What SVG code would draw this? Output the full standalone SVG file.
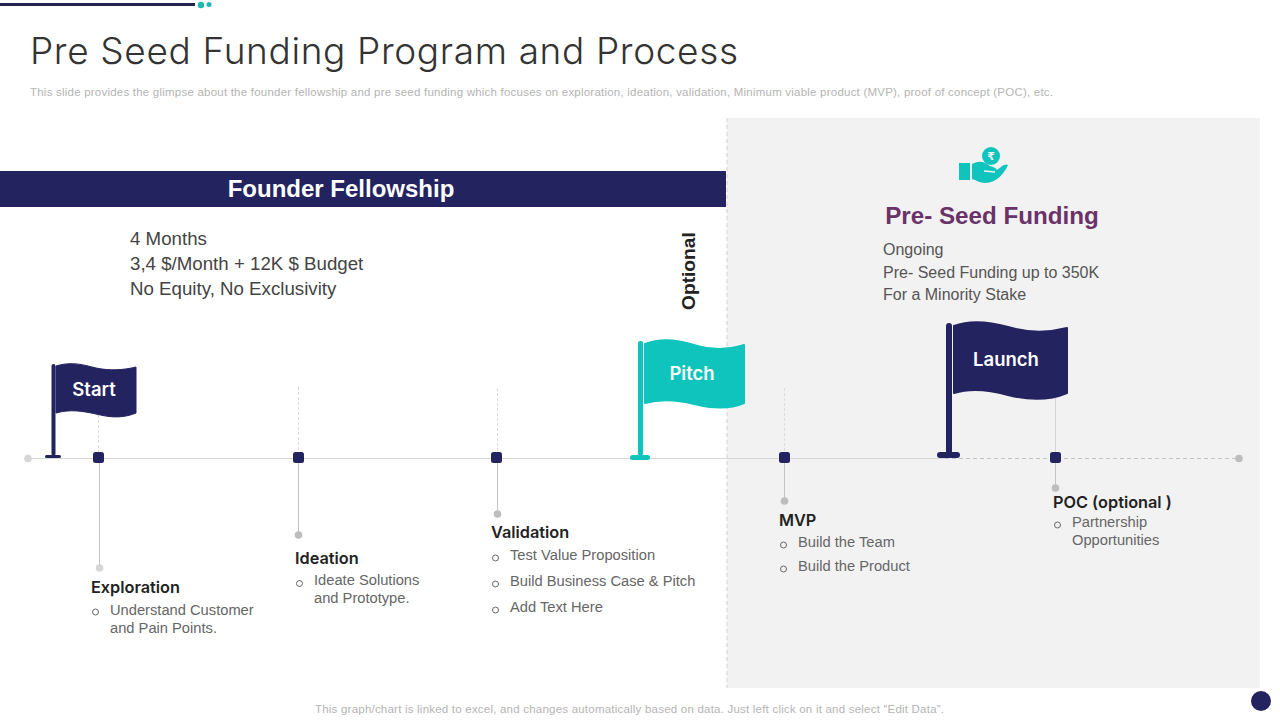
<svg xmlns="http://www.w3.org/2000/svg" width="1280" height="720" viewBox="0 0 1280 720">
<style>
text{font-family:"Liberation Sans",Arial,sans-serif;}
.small{font-size:11.500px;fill:#b4b4b4}
.head{font-size:16.300px;font-weight:600;fill:#222222;font-family:"Inter","Liberation Sans",sans-serif}
.item{font-size:14.700px;fill:#666666}
.info{font-size:18.700px;fill:#444444}
.pre{font-size:16px;fill:#555555}
.flag{font-size:18.500px;font-weight:600;fill:#ffffff;text-anchor:middle;font-family:"Inter","Liberation Sans",sans-serif}
.stem{stroke:#c4c4c4;stroke-width:1;fill:none}
.up{stroke:#dcdcdc;stroke-width:1;stroke-dasharray:3 2;fill:none}
.end{fill:#bdbdbd}
.sq{fill:#232360}
.bul{fill:none;stroke:#666666;stroke-width:1}
</style>
<rect width="1280" height="720" fill="#ffffff"/>
<g id="topbar">
<rect x="0" y="3" width="195" height="3" fill="#232350"/>
<circle cx="201" cy="5" r="3.200" fill="#1fb8ae"/><circle cx="209" cy="4.500" r="2.500" fill="#1fb8ae"/>
</g>
<text x="30" y="64" textLength="708" style="font-size:37px;font-weight:300;fill:#333333;font-family:'Inter','Liberation Sans',sans-serif">Pre Seed Funding Program and Process</text>
<text x="30" y="96" class="small" textLength="1023">This slide provides the glimpse about the founder fellowship and pre seed funding which focuses on exploration, ideation, validation, Minimum viable product (MVP),  proof of concept (POC),  etc.</text>
<rect id="panel" x="727" y="118" width="533" height="570" fill="#f2f2f2"/>
<g id="connectors">
<line x1="727" y1="118" x2="727" y2="688" stroke="#d0d0d0" stroke-dasharray="4 3"/>
<line x1="28" y1="458.500" x2="945" y2="458.500" stroke="#d6d6d6"/>
<line x1="945" y1="458.500" x2="1239" y2="458.500" stroke="#c4c4c4" stroke-dasharray="4 3"/>
<circle cx="28" cy="458.500" r="3.800" fill="#d6d6d6"/><circle cx="1239" cy="458.500" r="3.800" class="end"/>
<path class="up" d="M98.500 415V452M298.500 387V452M497.500 388V452M784.500 388V452"/>
<path class="stem" d="M1055.500 398V452" style="stroke:#d4d4d4"/>
<path class="stem" d="M99.500 458V568M298.500 458V535M497.500 458V514M784.500 458V501M1055.500 458V488"/>
<circle cx="99.500" cy="568" r="3.800" fill="#d6d6d6"/><circle cx="298.500" cy="535" r="3.800" class="end"/><circle cx="497.500" cy="514" r="3.800" class="end"/><circle cx="784.500" cy="501" r="3.800" class="end"/><circle cx="1055.500" cy="488" r="3.800" class="end"/>
</g>
<g id="nodes">
<rect x="93" y="452" width="11" height="11" rx="2.500" class="sq"/><rect x="293" y="452" width="11" height="11" rx="2.500" class="sq"/><rect x="491" y="452" width="11" height="11" rx="2.500" class="sq"/><rect x="779" y="452" width="11" height="11" rx="2.500" class="sq"/><rect x="1050" y="452" width="11" height="11" rx="2.500" class="sq"/>
</g>
<g id="founder">
<rect x="0" y="171" width="726" height="36" fill="#232360"/>
<text x="341" y="197" style="font-size:24px;font-weight:700;fill:#fff;text-anchor:middle">Founder Fellowship</text>
<text x="130" y="245" class="info">4 Months</text>
<text x="130" y="270" class="info">3,4 $/Month + 12K $ Budget</text>
<text x="130" y="295" class="info">No Equity, No Exclusivity</text>
</g>
<text id="optional" transform="translate(695 310) rotate(-90)" style="font-size:19.200px;font-weight:700;fill:#222222">Optional</text>
<g id="preseed">
<circle cx="991" cy="156" r="9" fill="#0fc4bd"/>
<text x="991" y="160" style="font-size:11px;font-weight:700;fill:#f2f2f2;text-anchor:middle;font-family:'DejaVu Sans',sans-serif">₹</text>
<rect x="959" y="163" width="11" height="17" fill="#0fc4bd"/>
<path d="M972 164C980 160 985 162 990 166C994 167 996 168 997 170C1001 167 1005 163 1008 165C1005 172 997 183 985 183C980 183 976 180 972 179Z" fill="#0fc4bd"/>
<path d="M984 171L995 172" stroke="#f2f2f2" stroke-width="1.300" fill="none"/>
<text x="992" y="224" style="font-size:24.200px;font-weight:700;fill:#6a3268;text-anchor:middle">Pre- Seed Funding</text>
<text x="883" y="255" class="pre">Ongoing</text>
<text x="883" y="278" class="pre">Pre- Seed Funding up to 350K</text>
<text x="883" y="300" class="pre">For a Minority Stake</text>
</g>
<g id="flag-start">
<rect x="51.500" y="364" width="4" height="92" rx="2" fill="#232360"/>
<rect x="45" y="455" width="16" height="3" rx="1.500" fill="#232360"/>
<path d="M56 366C72 361 84 365 96 368C110 371 124 370 136 367V413C122 419 108 417 96 414C82 411 70 409 56 413Z" fill="#232360" stroke="#232360" stroke-linejoin="round"/>
<text x="94" y="396" class="flag">Start</text>
</g>
<g id="flag-pitch">
<rect x="638" y="341" width="5" height="115" rx="2" fill="#0fc4bd"/>
<rect x="630" y="455" width="20" height="5" rx="2.500" fill="#0fc4bd"/>
<path d="M645 344C660 338 678 340 694 345C710 350 728 350 744 345V403C728 410 710 408 694 404C678 400 660 399 645 403Z" fill="#0fc4bd" stroke="#0fc4bd" stroke-width="2" stroke-linejoin="round"/>
<text x="692" y="379.500" class="flag">Pitch</text>
</g>
<g id="flag-launch">
<rect x="946" y="323" width="6" height="131" rx="3" fill="#232360"/>
<rect x="937" y="452" width="23" height="6" rx="3" fill="#232360"/>
<path d="M954 326C970 320 990 322 1008 327C1028 333 1048 333 1067 328V393C1048 401 1028 400 1008 395C990 390 970 388 954 393Z" fill="#232360" stroke="#232360" stroke-width="2" stroke-linejoin="round"/>
<text x="1006" y="366" class="flag">Launch</text>
</g>
<g id="exploration">
<text x="91" y="593" class="head">Exploration</text>
<circle cx="95.500" cy="612" r="3" class="bul"/>
<text x="110" y="615" class="item">Understand Customer</text>
<text x="110" y="633" class="item">and Pain Points.</text>
</g>
<g id="ideation">
<text x="295" y="564" class="head">Ideation</text>
<circle cx="299.500" cy="583.500" r="3" class="bul"/>
<text x="314" y="585" class="item">Ideate Solutions</text>
<text x="314" y="603" class="item">and Prototype.</text>
</g>
<g id="validation">
<text x="491" y="538" class="head">Validation</text>
<circle cx="495.500" cy="558" r="3" class="bul"/>
<circle cx="495.500" cy="584" r="3" class="bul"/>
<circle cx="495.500" cy="610" r="3" class="bul"/>
<text x="510" y="560" class="item">Test Value Proposition</text>
<text x="510" y="586" class="item">Build Business Case &amp; Pitch</text>
<text x="510" y="612" class="item">Add Text Here</text>
</g>
<g id="mvp">
<text x="779" y="526" class="head">MVP</text>
<circle cx="783.500" cy="545" r="3" class="bul"/>
<circle cx="783.500" cy="569" r="3" class="bul"/>
<text x="798" y="547" class="item">Build the Team</text>
<text x="798" y="571" class="item">Build the Product</text>
</g>
<g id="poc">
<text x="1053" y="508" class="head">POC (optional )</text>
<circle cx="1057.500" cy="525" r="3" class="bul"/>
<text x="1072" y="527" class="item">Partnership</text>
<text x="1072" y="545" class="item">Opportunities</text>
</g>
<text x="315" y="713" class="small" textLength="629">This graph/chart is linked to excel,  and changes automatically based on data. Just left click on it and select “Edit Data”.</text>
<circle id="pagebadge" cx="1261" cy="701" r="10" fill="#232360"/>
</svg>
